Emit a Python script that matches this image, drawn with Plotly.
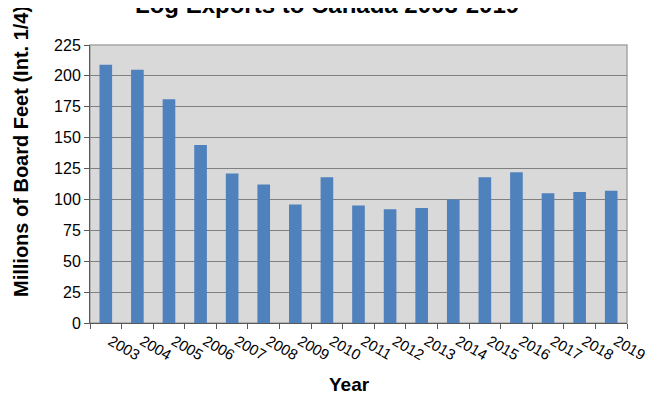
import plotly.graph_objects as go

years = ["2003", "2004", "2005", "2006", "2007", "2008", "2009", "2010", "2011",
         "2012", "2013", "2014", "2015", "2016", "2017", "2018", "2019"]
exports = [209, 205, 181, 144, 121, 112, 96, 118, 95, 92, 93, 100, 118, 122, 105, 106, 107]
y_ticks = [0, 25, 50, 75, 100, 125, 150, 175, 200, 225]

OFF = 8  # page body margin offset
W, H = 662, 400
L, T = 90 - OFF, 45 - OFF
R = W - (627 - OFF)
B = H - (323 - OFF)
PH = H - T - B
PW = W - L - R


def px_x(x):
    return (x - OFF - L) / PW


def px_y(y):
    return (H - B - (y - OFF)) / PH


fig = go.Figure(go.Bar(x=years, y=exports, marker_color="#4f81bd",
                       marker_line_width=0, width=0.4))

fig.update_layout(
    width=W, height=H,
    margin=dict(l=L, r=R, t=T, b=B, autoexpand=False),
    paper_bgcolor="white", plot_bgcolor="#d9d9d9",
    font=dict(family="Liberation Sans, Arial", size=13, color="black"),
    showlegend=False,
)
# chart title (partly cut off at the top edge, as in the reference)
fig.add_annotation(text="<b>Log Exports to Canada 2003-2019</b>", xref="paper", yref="paper",
                   x=px_x(327), y=px_y(4), yanchor="middle", showarrow=False,
                   font=dict(size=24))
# y axis title
fig.add_annotation(text="<b>Millions of Board Feet (Int. 1/4)</b>", xref="paper", yref="paper",
                   x=px_x(21), y=px_y(152), xanchor="center", yanchor="middle",
                   textangle=-90, showarrow=False, font=dict(size=20))
# x axis title
fig.add_annotation(text="<b>Year</b>", xref="paper", yref="paper",
                   x=px_x(349), y=px_y(384), xanchor="center", yanchor="middle",
                   showarrow=False, font=dict(size=19))
# plot-area frame
fig.add_shape(type="rect", xref="paper", yref="paper", x0=0, x1=1, y0=0, y1=1,
              line=dict(color="#a6a6a6", width=1.5), layer="below")

fig.update_xaxes(
    type="category", tickangle=30, tickson="boundaries", ticks="outside", ticklen=5,
    tickcolor="#595959", showline=True, linecolor="#595959", linewidth=1,
    tickfont=dict(size=15), ticklabelshift=5, ticklabelstandoff=3,
)
fig.update_yaxes(
    range=[0, 225], tickvals=y_ticks, ticks="outside", ticklen=5, tickcolor="#595959",
    showline=True, linecolor="#595959", linewidth=1,
    showgrid=True, gridcolor="#808080", gridwidth=1, zeroline=False,
    tickfont=dict(size=16), ticksuffix="\u00a0\u00a0",
)
fig.write_html("out.html")
